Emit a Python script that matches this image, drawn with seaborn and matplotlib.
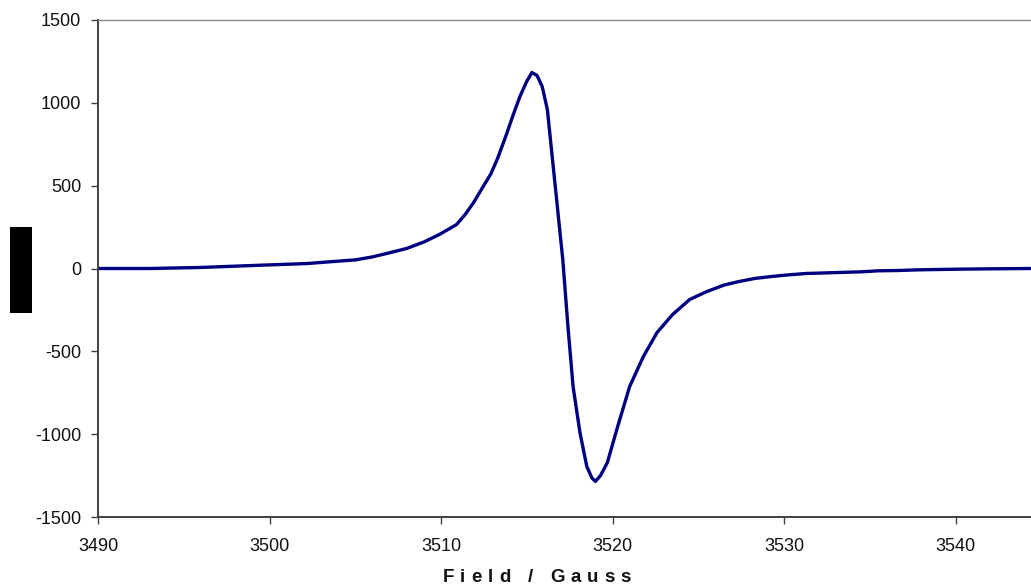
import numpy as np
import pandas as pd
import matplotlib
matplotlib.use("Agg")
import matplotlib.pyplot as plt
from matplotlib.patches import Rectangle
import seaborn as sns

# EPR first-derivative spectrum: magnetic field (G) vs. signal intensity
field = [3490.0, 3493.0, 3495.9, 3499.0, 3502.2, 3503.7, 3505.0, 3506.0,
         3507.0, 3508.0, 3509.0, 3509.9, 3510.9, 3511.4, 3511.9, 3512.4,
         3512.9, 3513.3, 3513.8, 3514.2, 3514.6, 3515.0, 3515.3, 3515.6,
         3515.9, 3516.2, 3516.5, 3516.8, 3517.1, 3517.4, 3517.7, 3518.1,
         3518.5, 3518.8, 3519.0, 3519.3, 3519.7, 3520.3, 3521.0, 3521.8,
         3522.6, 3523.5, 3524.5, 3525.5, 3526.5, 3527.4, 3528.3, 3529.3,
         3530.3, 3531.3, 3532.3, 3533.2, 3534.5, 3535.5, 3536.7, 3537.8,
         3539.0, 3540.2, 3542.0, 3544.4]
signal = [0, 0, 6, 18, 30, 42, 52, 70,
          95, 121, 160, 205, 265, 325, 398, 485,
          570, 665, 805, 925, 1038, 1130, 1183, 1165,
          1098, 960, 658, 356, 54, -350, -712, -990,
          -1195, -1265, -1285, -1250, -1171, -954, -712, -531,
          -386, -278, -187, -139, -100, -78, -60, -48,
          -38, -30, -27, -24, -20, -14, -12, -8,
          -6, -4, -2, 0]

df = pd.DataFrame({"Field / Gauss": field, "Signal": signal})

W, H, DPI = 1031, 586, 100
sns.set_style("white")
plt.rcParams["font.family"] = ["Liberation Sans", "DejaVu Sans"]
plt.rcParams["axes.unicode_minus"] = False

fig = plt.figure(figsize=(W / DPI, H / DPI), dpi=DPI)
ax = fig.add_axes([98 / W, 1 - 517 / H, (W - 98) / W, (517 - 20) / H])

sns.lineplot(data=df, x="Field / Gauss", y="Signal", ax=ax,
             color="#000080", linewidth=2.4, estimator=None, sort=False)

ax.set_xlim(3490, 3544.4)
ax.set_ylim(-1500, 1500)
xticks = [3490, 3500, 3510, 3520, 3530, 3540]
yticks = [-1500, -1000, -500, 0, 500, 1000, 1500]
ax.set_xticks(xticks)
ax.set_yticks(yticks)
ax.set_xlabel("")
ax.set_ylabel("")

ax.tick_params(axis="both", direction="out", length=5, width=1.0,
               color="#404040", labelsize=13, labelcolor="#111111")
ax.tick_params(axis="x", bottom=True, pad=10)
ax.tick_params(axis="y", left=True, pad=7)

for side in ("left", "bottom"):
    ax.spines[side].set_color("#404040")
    ax.spines[side].set_linewidth(1.4)
ax.spines["top"].set_color("#8a8a8a")
ax.spines["top"].set_linewidth(1.0)
ax.spines["right"].set_visible(False)

# Filled block beside the y axis
fig.add_artist(Rectangle((10 / W, 1 - 313 / H), 22 / W, 86 / H,
                         transform=fig.transFigure, facecolor="black",
                         edgecolor="none"))

# Letter-spaced bold axis title
title = "Field / Gauss"
tracking = 6.0  # extra pixels between characters
fig.canvas.draw()
renderer = fig.canvas.get_renderer()
prop = matplotlib.font_manager.FontProperties(
    family=["Liberation Sans", "DejaVu Sans"], weight="bold", size=13.5)


def text_w(s):
    w, _, _ = renderer.get_text_width_height_descent(s, prop, ismath=False)
    return w


base = text_w("HH")
advances = [text_w("H" + c + "H") - base for c in title]
total = sum(advances) + tracking * (len(title) - 1)
x0 = 537 - total / 2
baseline = 1 - 582 / H
for c, adv in zip(title, advances):
    if c != " ":
        fig.text(x0 / W, baseline, c, fontproperties=prop, color="#111111",
                 ha="left", va="baseline")
    x0 += adv + tracking

fig.savefig("out.png", dpi=DPI)
